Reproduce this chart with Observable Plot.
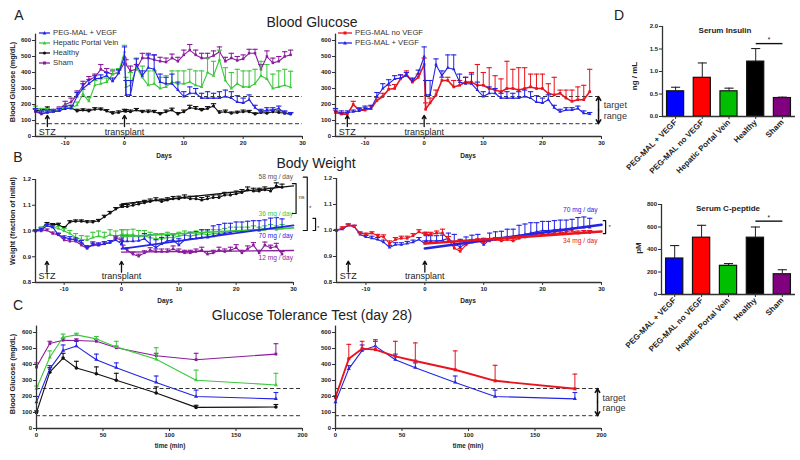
<!DOCTYPE html>
<html><head><meta charset="utf-8">
<script src="https://cdn.jsdelivr.net/npm/d3@7"></script>
<script src="https://cdn.jsdelivr.net/npm/@observablehq/plot@0.6"></script>
<style>
body{margin:0;background:#fff;}
#page{position:relative;width:800px;height:460px;overflow:hidden;font-family:"Liberation Sans",Arial,Helvetica,sans-serif;color:#222;}
#page > svg{position:absolute;left:0;top:0;background:transparent !important;overflow:visible;}
.lbl{position:absolute;white-space:nowrap;line-height:1;}
</style></head><body><div id="page"></div>
<script>
// ================= DATA =================
const days = [-15,-14,-13,-12,-11,-10,-9,-8,-7,-6,-5,-4,-3,-2,-1,0,0.25,1,2,3,4,5,6,7,8,9,10,11,12,13,14,15,16,17,18,19,20,21,22,23,24,25,26,27,28];
const eventDays = [-13, 0];
const eventLabels = ["STZ", "transplant"];
const targetRange = [80, 250];
const targetLabels = ["target", "range"];

// Blood glucose (mg/dL), mean and SEM
const gluVEGF = [160,145,150,155,160,175,175,250,300,330,360,365,380,345,395,500, 260,260,450,380,430,420,340,330,330,290,250,270,270,240,240,240,240,250,240,215,210,230,180,155,165,165,175,145,140];
const gluVEGFErr = [15,15,10,10,15,15,20,25,30,25,20,20,20,20,20,60, 90,90,35,30,80,90,50,40,60,50,30,40,30,30,40,30,40,40,40,40,30,30,15,15,15,15,15,15,10];
const gluNoVEGF = [150,140,140,200,165,165,175,225,250,295,300,360,390,340,370,450, 170,210,260,350,350,310,320,340,340,320,320,300,290,280,300,300,290,300,310,300,300,270,260,270,240,220,230,230,280];
const gluNoVEGFErr = [15,10,10,20,15,15,15,20,20,25,25,25,20,20,20,40, 40,30,30,20,20,40,30,30,60,130,80,130,90,80,170,120,140,130,80,90,90,60,110,20,50,70,80,90,140];
const gluHPV = [175,160,160,155,165,180,180,195,265,220,320,330,340,390,400,530, 310,320,430,370,320,330,300,310,340,330,330,340,320,310,400,380,480,350,300,330,310,310,330,380,360,300,310,320,308];
const gluHPVErr = [15,15,15,10,15,15,15,20,30,25,30,30,25,30,25,40, 60,80,60,70,90,80,70,70,70,80,80,80,90,100,90,90,60,80,100,90,100,100,90,90,90,90,100,100,100];
const gluHealthy = [160,165,175,160,165,175,180,160,165,160,170,170,160,145,150,160, 158,155,165,155,155,155,140,155,165,140,155,180,175,165,175,190,150,155,145,150,155,155,140,150,145,155,150,145,140];
const gluHealthyErr = [12,10,10,8,10,10,12,10,8,10,10,8,8,10,10,10, 10,10,10,8,10,8,10,10,12,10,10,15,12,10,12,15,10,10,8,8,10,8,8,10,8,10,10,8,8];
const gluSham = [155,140,150,155,170,200,215,260,320,355,370,420,400,390,400,460, 450,410,420,490,490,480,470,465,490,470,510,540,510,490,490,505,530,470,490,475,485,520,520,420,500,460,470,500,510];
const gluShamErr = [15,15,15,15,15,20,25,25,25,20,20,30,25,20,20,30, 30,30,30,30,30,30,25,25,25,25,30,35,30,30,30,30,30,25,30,25,25,25,25,30,35,30,30,30,30];

// Body weight (fraction of initial), mean and SEM
const wtVEGF = [1.000,1.005,1.020,1.015,0.985,0.975,0.970,0.965,0.955,0.935,0.945,0.945,0.950,0.955,0.965,0.950, 0.960,0.960,0.960,0.962,0.970,0.950,0.936,0.950,0.962,0.965,0.945,0.965,0.970,0.972,0.975,0.975,0.980,0.985,0.990,0.995,1.000,1.000,1.003,1.005,1.005,1.008,1.010,1.012,1.012];
const wtVEGFErr = [0.004,0.004,0.005,0.005,0.006,0.006,0.008,0.008,0.008,0.008,0.008,0.008,0.008,0.008,0.008,0.010, 0.020,0.020,0.020,0.020,0.020,0.035,0.030,0.025,0.020,0.020,0.025,0.025,0.025,0.025,0.030,0.030,0.040,0.040,0.040,0.035,0.035,0.035,0.035,0.035,0.035,0.035,0.040,0.040,0.035];
const wtNoVEGF = [1.000,1.010,1.020,1.015,0.990,0.985,0.990,0.980,0.975,0.950,0.965,0.970,0.970,0.980,0.995,0.985, 0.985,0.985,0.990,0.990,0.965,0.932,0.920,0.945,0.955,0.960,0.955,0.960,0.965,0.960,0.965,0.960,0.970,0.975,0.980,0.980,0.985,0.985,0.990,0.990,0.995,1.000,0.990,0.992,0.992];
const wtNoVEGFErr = [0.004,0.004,0.005,0.005,0.005,0.005,0.005,0.005,0.008,0.010,0.008,0.008,0.008,0.008,0.008,0.008, 0.008,0.008,0.008,0.015,0.012,0.010,0.010,0.010,0.010,0.008,0.008,0.008,0.008,0.008,0.008,0.008,0.008,0.008,0.008,0.008,0.008,0.008,0.008,0.008,0.008,0.008,0.008,0.008,0.008];
const wtHPV = [1.000,1.010,1.020,1.015,1.010,1.000,0.990,0.975,0.967,0.965,0.975,0.980,0.975,0.985,0.980,0.985, 0.985,0.985,0.985,0.980,0.980,0.975,0.970,0.970,0.975,0.975,0.980,0.985,0.980,0.985,0.990,0.985,0.990,0.990,0.995,1.000,1.000,1.000,1.000,1.005,1.000,1.005,1.010,1.005,1.010];
const wtHPVErr = [0.004,0.005,0.006,0.006,0.008,0.010,0.012,0.015,0.015,0.015,0.020,0.020,0.020,0.020,0.020,0.020, 0.020,0.020,0.022,0.022,0.022,0.020,0.020,0.020,0.020,0.015,0.015,0.015,0.015,0.015,0.015,0.015,0.015,0.015,0.015,0.015,0.015,0.015,0.015,0.015,0.015,0.015,0.015,0.015,0.015];
const wtHealthy = [1.000,1.010,1.028,1.025,1.025,1.012,1.035,1.038,1.038,1.035,1.035,1.040,1.055,1.070,1.085,1.095, 1.095,1.095,1.100,1.105,1.110,1.115,1.120,1.115,1.120,1.125,1.125,1.130,1.125,1.125,1.120,1.125,1.130,1.130,1.140,1.140,1.145,1.150,1.160,1.155,1.155,1.160,1.155,1.175,1.170];
const wtHealthyErr = [0.003,0.004,0.005,0.004,0.005,0.005,0.005,0.005,0.005,0.005,0.005,0.005,0.006,0.006,0.006,0.006, 0.008,0.008,0.008,0.008,0.009,0.009,0.009,0.009,0.009,0.009,0.010,0.010,0.010,0.010,0.010,0.010,0.010,0.010,0.010,0.010,0.010,0.011,0.011,0.011,0.011,0.011,0.011,0.012,0.012];
const wtSham = [1.000,1.000,1.003,0.990,0.985,0.965,0.960,0.960,0.945,0.932,0.950,0.945,0.950,0.955,0.972,0.965, 0.935,0.925,0.910,0.902,0.915,0.925,0.920,0.920,0.920,0.930,0.920,0.915,0.915,0.920,0.925,0.910,0.915,0.925,0.920,0.925,0.935,0.915,0.930,0.945,0.915,0.945,0.935,0.940,0.910];
const wtShamErr = [0.004,0.005,0.005,0.006,0.006,0.008,0.008,0.008,0.008,0.008,0.008,0.008,0.008,0.008,0.008,0.008, 0.010,0.010,0.008,0.008,0.008,0.010,0.010,0.010,0.010,0.012,0.010,0.010,0.010,0.010,0.012,0.010,0.010,0.012,0.010,0.012,0.012,0.010,0.012,0.010,0.010,0.012,0.010,0.012,0.010];

// Linear fits of weight after transplant (day 0 to 30)
const fitDays = [0, 30];
const fitVEGF = [0.931, 1.022];
const fitNoVEGF = [0.950, 0.996];
const fitHPV = [0.978, 1.012];
const fitHealthy = [1.105, 1.175];
const fitSham = [0.918, 0.924];
const rateHealthy = "58 mg / day", rateHPV = "36 mg / day", rateVEGF = "70 mg / day", rateSham = "12 mg / day", rateNoVEGF = "34 mg / day";

// Glucose tolerance test (day 28)
const gttTime = [0, 10, 20, 30, 45, 60, 90, 120, 180];
const gttVEGF = [165, 373, 487, 515, 430, 380, 288, 200, 185];
const gttVEGFErr = [35, 20, 35, 30, 35, 30, 40, 40, 40];
const gttNoVEGF = [195, 436, 499, 493, 451, 422, 367, 298, 248];
const gttNoVEGFErr = [10, 90, 46, 62, 94, 113, 118, 97, 92];
const gttHPV = [250, 445, 570, 585, 560, 510, 433, 302, 272];
const gttHPVErr = [15, 40, 20, 10, 15, 35, 72, 63, 73];
const gttHealthy = [100, 352, 440, 378, 342, 302, 222, 132, 134];
const gttHealthyErr = [10, 28, 30, 42, 43, 43, 38, 13, 16];
const gttSham = [384, 531, 552, 550, 545, 505, 455, 430, 465];
const gttShamErr = [26, 14, 13, 10, 12, 10, 15, 40, 65];

// Serum insulin / C-peptide
const groups = ["PEG-MAL + VEGF", "PEG-MAL no VEGF", "Hepatic Portal Vein", "Healthy", "Sham"];
const insulin = [0.56, 0.86, 0.56, 1.22, 0.41];
const insulinErr = [0.09, 0.33, 0.07, 0.29, 0.02];
const cpeptide = [320, 505, 255, 505, 180];
const cpeptideErr = [115, 110, 20, 95, 40];
const sigPair = [3, 4]; // Healthy vs Sham

// ================= STYLE / LAYOUT =================
const FONT = '"Liberation Sans", Arial, Helvetica, sans-serif';
const COL = {vegf: "#2424e4", novegf: "#e8141e", hpv: "#3cc83c", healthy: "#111111", sham: "#8a1c9c"};
const barColors = ["#0000ff", "#ff0000", "#00bf00", "#000000", "#800080"];
const page = document.getElementById("page");

function panel({L, R, T, B, x, y, marks}) {
  const svg = Plot.plot({
    width: 800, height: 460,
    marginLeft: L, marginRight: 800 - R, marginTop: T, marginBottom: 460 - B,
    x: {...x, label: null}, y: {...y, label: null},
    color: {type: "identity"},
    style: {background: "transparent", fontFamily: FONT, overflow: "visible"},
    marks
  });
  page.appendChild(svg);
}

function axes(xt, yt, xf, yf, x0, y0, xo = {}) {
  return [
    Plot.axisX({ticks: xt, tickFormat: xf, tickSize: 3, tickPadding: 1.5, fontSize: 6, fontWeight: "bold", label: null, stroke: "#333", fill: "#222", ...xo}),
    Plot.axisY({ticks: yt, tickFormat: yf, tickSize: 3, tickPadding: 1.5, fontSize: 6, fontWeight: "bold", label: null, stroke: "#333", fill: "#222"}),
    Plot.ruleX([x0], {stroke: "#333", strokeWidth: 1.3}),
    Plot.ruleY([y0], {stroke: "#333", strokeWidth: 1.3})
  ];
}

function series(xs, ys, es, color, {symbol = "circle", r = 1.5, sw = 1.1, cap = 0.45} = {}) {
  const data = xs.map((x, i) => ({x, y: ys[i], e: es[i]}));
  return [
    Plot.ruleX(data, {x: "x", y1: "y", y2: d => d.y + d.e, stroke: color, strokeWidth: 1}),
    Plot.link(data, {x1: d => d.x - cap, x2: d => d.x + cap, y1: d => d.y + d.e, y2: d => d.y + d.e, stroke: color, strokeWidth: 1.1}),
    Plot.line(data, {x: "x", y: "y", stroke: color, strokeWidth: sw}),
    Plot.dot(data, {x: "x", y: "y", r, fill: color, symbol})
  ];
}

function fit(ys, color, sw) {
  return Plot.line(fitDays.map((d, i) => ({x: d, y: ys[i]})), {x: "x", y: "y", stroke: color, strokeWidth: sw});
}

function events(y1, y2, yt) {
  return [
    Plot.arrow(eventDays, {x1: d => d, x2: d => d, y1: () => y1, y2: () => y2, stroke: "#111", strokeWidth: 1.3, headLength: 5}),
    Plot.text(eventDays, {x: d => d, y: () => yt, text: (d, i) => eventLabels[i], fontSize: 9, fill: "#222"})
  ];
}

function target(xa, xt, ys) {
  const mid = (targetRange[0] + targetRange[1]) / 2;
  return [
    Plot.arrow([0, 1], {x1: () => xa, x2: () => xa, y1: () => mid, y2: d => targetRange[d], stroke: "#111", strokeWidth: 1.5, headLength: 4.5}),
    Plot.text(targetLabels, {x: () => xt, y: (d, i) => ys[i], text: d => d, textAnchor: "start", fontSize: 9, fill: "#333"})
  ];
}

function bracket(xa, xb, y1, y2) {
  return Plot.line([[xa, y1], [xb, y1], [xb, y2], [xa, y2]], {stroke: "#111", strokeWidth: 1.2});
}
function note(s, x, y, color, size = 6.6, anchor = "middle") {
  return Plot.text([s], {x: () => x, y: () => y, text: d => d, fill: color, fontSize: size, textAnchor: anchor});
}

const dashed = () => Plot.ruleY(targetRange, {stroke: "#333", strokeWidth: 1, strokeDasharray: "4,2.5"});
const dayTicks = [-10, 0, 10, 20, 30];
const gluTicks = [0, 100, 200, 300, 400, 500, 600];
const wtTicks = [0.8, 0.9, 1.0, 1.1, 1.2];
const f1 = d3.format(".1f");

// ---- A: Blood glucose ----
panel({L: 35, R: 302, T: 33.6, B: 136, x: {domain: [-15, 30]}, y: {domain: [0, 640]}, marks: [
  dashed(),
  ...series(days, gluHealthy, gluHealthyErr, COL.healthy),
  ...series(days, gluSham, gluShamErr, COL.sham, {symbol: "square", r: 1.4}),
  ...series(days, gluHPV, gluHPVErr, COL.hpv, {symbol: "triangle", r: 1.3}),
  ...series(days, gluVEGF, gluVEGFErr, COL.vegf, {symbol: "triangle", r: 1.3}),
  ...events(62, 132, 25),
  ...axes(dayTicks, gluTicks, String, String, -15, 0)
]});
panel({L: 335, R: 601, T: 33.6, B: 136, x: {domain: [-15, 30]}, y: {domain: [0, 640]}, marks: [
  dashed(),
  ...series(days, gluNoVEGF, gluNoVEGFErr, COL.novegf, {symbol: "square", r: 1.5, sw: 1.6}),
  ...series(days, gluVEGF, gluVEGFErr, COL.vegf, {symbol: "triangle", r: 1.3}),
  ...events(62, 132, 25),
  ...target(29.5, 30.4, [194, 125]),
  ...axes(dayTicks, gluTicks, String, String, -15, 0)
]});

// ---- B: Body weight ----
panel({L: 35, R: 293, T: 179, B: 282, x: {domain: [-15, 30]}, y: {domain: [0.8, 1.2]}, marks: [
  ...series(days, wtHealthy, wtHealthyErr, COL.healthy),
  ...series(days, wtHPV, wtHPVErr, COL.hpv, {symbol: "triangle", r: 1.3}),
  ...series(days, wtSham, wtShamErr, COL.sham, {symbol: "square", r: 1.4}),
  ...series(days, wtVEGF, wtVEGFErr, COL.vegf, {symbol: "triangle", r: 1.3}),
  fit(fitHealthy, COL.healthy, 1.3), fit(fitHPV, COL.hpv, 1.6), fit(fitSham, COL.sham, 1.4), fit(fitVEGF, COL.vegf, 1.8),
  note(rateHealthy, 26.9, 1.212, "#555"), note(rateHPV, 26.9, 1.068, COL.hpv),
  note(rateVEGF, 26.9, 0.983, COL.vegf), note(rateSham, 26.9, 0.897, COL.sham),
  bracket(29.8, 30.45, 1.184, 1.068), note("ns", 30.9, 1.13, "#333", 5.5, "start"),
  bracket(31.7, 32.4, 1.209, 1.002), note("*", 32.7, 1.09, "#333", 6, "start"),
  bracket(33.4, 33.85, 1.049, 1.002), note("*", 34.1, 1.01, "#333", 6, "start"),
  ...events(0.84, 0.882, 0.823),
  ...axes(dayTicks, wtTicks, String, f1, -15, 0.8)
]});
panel({L: 336, R: 601, T: 178, B: 282, x: {domain: [-15, 30]}, y: {domain: [0.8, 1.2]}, marks: [
  ...series(days, wtVEGF, wtVEGFErr, COL.vegf, {symbol: "triangle", r: 1.3}),
  ...series(days, wtNoVEGF, wtNoVEGFErr, COL.novegf, {symbol: "square", r: 1.5}),
  fit(fitVEGF, COL.vegf, 2.6), fit(fitNoVEGF, COL.novegf, 2.6),
  note(rateVEGF, 26.4, 1.081, COL.vegf), note(rateNoVEGF, 26.4, 0.962, COL.novegf),
  bracket(30.3, 30.7, 1.038, 0.988), note("*", 31.2, 1.012, "#333", 6, "start"),
  ...events(0.84, 0.882, 0.823),
  ...axes(dayTicks, wtTicks, String, f1, -15, 0.8)
]});

// ---- C: Glucose tolerance test ----
const minTicks = [0, 50, 100, 150, 200];
panel({L: 36, R: 302, T: 325.6, B: 428, x: {domain: [0, 200]}, y: {domain: [0, 640]}, marks: [
  dashed(),
  ...series(gttTime, gttHealthy, gttHealthyErr, COL.healthy, {cap: 1.8, r: 1.8}),
  ...series(gttTime, gttSham, gttShamErr, COL.sham, {symbol: "square", cap: 1.8, r: 1.6}),
  ...series(gttTime, gttHPV, gttHPVErr, COL.hpv, {symbol: "triangle", cap: 1.8, r: 1.5}),
  ...series(gttTime, gttVEGF, gttVEGFErr, COL.vegf, {symbol: "triangle", cap: 1.8, r: 1.5}),
  ...axes(minTicks, gluTicks, String, String, 0, 0)
]});
panel({L: 335, R: 601, T: 325.6, B: 428, x: {domain: [0, 200]}, y: {domain: [0, 640]}, marks: [
  dashed(),
  ...series(gttTime, gttVEGF, gttVEGFErr, COL.vegf, {symbol: "triangle", cap: 1.8, r: 1.5}),
  ...series(gttTime, gttNoVEGF, gttNoVEGFErr, COL.novegf, {symbol: "square", cap: 1.8, r: 1.7, sw: 1.9}),
  ...target(197, 200.8, [192, 128]),
  ...axes(minTicks, gluTicks, String, String, 0, 0)
]});

// ---- D: serum bars ----
function bars(vals, errs, ymax, yt, yf, sigY, T, B, L) {
  const idx = groups.map((g, i) => i);
  panel({L, R: 795, T, B, x: {domain: [-0.49, 4.49]}, y: {domain: [0, ymax]}, marks: [
    Plot.rectY(idx, {x1: i => i - 0.32, x2: i => i + 0.32, y1: 0, y2: i => vals[i], fill: i => barColors[i], stroke: "#111", strokeWidth: 1.2}),
    Plot.ruleX(idx, {x: i => i, y1: i => vals[i], y2: i => vals[i] + errs[i], stroke: "#222", strokeWidth: 1}),
    Plot.link(idx, {x1: i => i - 0.17, x2: i => i + 0.17, y1: i => vals[i] + errs[i], y2: i => vals[i] + errs[i], stroke: "#222", strokeWidth: 1.1}),
    Plot.link([sigPair], {x1: d => d[0], x2: d => d[1], y1: () => sigY, y2: () => sigY, stroke: "#111", strokeWidth: 1.4}),
    Plot.text([sigPair], {x: d => (d[0] + d[1]) / 2, y: () => sigY, dy: -3.5, text: () => "*", fontSize: 6.5, fill: "#111"}),
    ...axes(idx, yt, i => groups[i], yf, -0.49, 0, {tickRotate: -45, fontSize: 8})
  ]});
}
bars(insulin, insulinErr, 2, [0, 0.5, 1, 1.5, 2], f1, 1.62, 26, 116, 662);
bars(cpeptide, cpeptideErr, 800, [0, 200, 400, 600, 800], String, 652, 204, 294, 661);

// ================= TEXT LABELS =================
function txt(s, x, y, {size = 7, weight = "normal", color = "#222", anchor = "middle", rotate = 0} = {}) {
  const d = document.createElement("div");
  d.className = "lbl"; d.textContent = s;
  Object.assign(d.style, {left: x + "px", top: y + "px", fontSize: size + "px", fontWeight: weight, color});
  const tx = anchor === "middle" ? "-50%" : anchor === "end" ? "-100%" : "0";
  d.style.transform = `translate(${tx},-50%)` + (rotate ? ` rotate(${rotate}deg)` : "");
  page.appendChild(d);
}
txt("A", 19, 15, {size: 14}); txt("B", 18, 157, {size: 14}); txt("C", 18, 305, {size: 14}); txt("D", 619, 15, {size: 14});
txt("Blood Glucose", 312, 22, {size: 14});
txt("Body Weight", 316, 163, {size: 14});
txt("Glucose Tolerance Test (day 28)", 312, 315, {size: 14});
for (const [x, y] of [[164, 156], [468, 156], [165, 301], [468, 301]]) txt("Days", x, y, {size: 6.5, weight: "bold"});
txt("time (min)", 170, 446, {size: 6.4, weight: "bold"}); txt("time (min)", 468, 446, {size: 6.4, weight: "bold"});
txt("Blood Glucose (mg/dL)", 12.5, 82, {size: 7.3, weight: "bold", rotate: -90});
txt("Weight (fraction of initial)", 12.5, 221, {size: 7.3, weight: "bold", rotate: -90});
txt("Blood Glucose (mg/dL)", 12.5, 374, {size: 7.3, weight: "bold", rotate: -90});
txt("Serum Insulin", 725, 31, {size: 8, weight: "bold"});
txt("Serum C-peptide", 728, 209, {size: 8, weight: "bold"});
txt("ng / mL", 635, 76, {size: 8, weight: "bold", rotate: -90});
txt("pM", 639, 248, {size: 8, weight: "bold", rotate: -90});

function legend(items, x, y, step, w) {
  items.forEach(([label, color, sym], i) => {
    const d = document.createElement("div");
    d.className = "lbl";
    Object.assign(d.style, {left: x + "px", top: (y + i * step) + "px", transform: "translate(0,-50%)", fontSize: "7.7px", color: "#333", display: "flex", alignItems: "center"});
    const c = w / 2;
    const mk = sym === "square" ? `<rect x="${c - 1.5}" y="2.5" width="3" height="3" fill="${color}"/>`
      : sym === "triangle" ? `<path d="M${c},2 L${c + 1.9},5.6 L${c - 1.9},5.6Z" fill="${color}"/>`
      : `<circle cx="${c}" cy="4" r="1.6" fill="${color}"/>`;
    d.innerHTML = `<svg width="${w}" height="8" style="margin-right:3px;overflow:visible"><line x1="0" x2="${w}" y1="4" y2="4" stroke="${color}" stroke-width="1.3"/>${mk}</svg><span>${label}</span>`;
    page.appendChild(d);
  });
}
legend([[groups[0], COL.vegf, "triangle"], [groups[2], COL.hpv, "triangle"], [groups[3], COL.healthy, "circle"], [groups[4], COL.sham, "square"]], 39, 33, 10, 11);
legend([[groups[1], COL.novegf, "square"], [groups[0], COL.vegf, "triangle"]], 338, 33, 10, 14);
</script></body></html>
